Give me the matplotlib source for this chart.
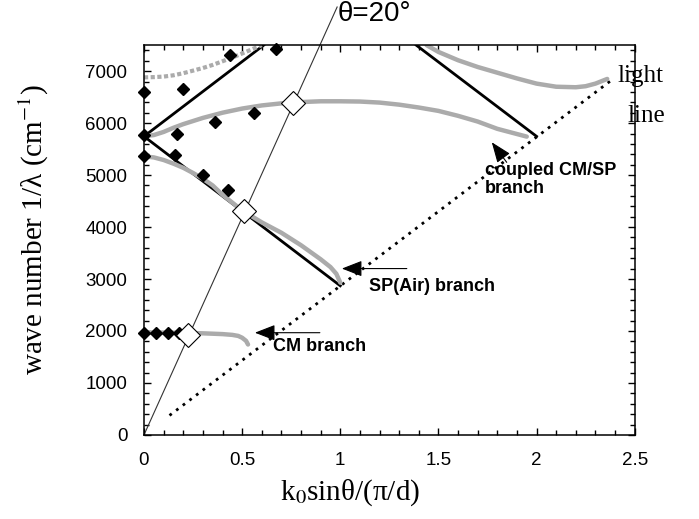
import matplotlib
matplotlib.use("Agg")
import matplotlib.pyplot as plt
from matplotlib.ticker import MultipleLocator

plt.rcParams['mathtext.fontset'] = 'stix'

# light line (dotted) and folded light lines (black solid)
light_x = [0.13, 2.39]
light_y = [375, 6850]
fold_up_x = [0.0, 0.61]
fold_up_y = [5745, 7500]
fold_down_x = [0.0, 1.0]
fold_down_y = [5745, 2870]
fold_right_x = [1.387, 2.0]
fold_right_y = [7500, 5745]

# theta = 20 deg line
theta_x = [0.0, 0.984]
theta_y = [0, 8234]

# calculated branches (gray)
band_a_x = [0, 0.05, 0.1, 0.15, 0.2, 0.25, 0.3, 0.35, 0.4, 0.45, 0.5, 0.55, 0.6]
band_a_y = [6880, 6885, 6895, 6920, 6960, 7010, 7060, 7120, 7190, 7260, 7340, 7420, 7500]

band_b_x = [0, 0.05, 0.1, 0.15, 0.2, 0.3, 0.4, 0.5, 0.6, 0.7, 0.8, 0.9, 1.0, 1.1,
            1.2, 1.3, 1.4, 1.5, 1.6, 1.7, 1.8, 1.9, 1.95]
band_b_y = [5750, 5770, 5830, 5910, 5980, 6100, 6200, 6280, 6340, 6380, 6405, 6420,
            6420, 6415, 6395, 6355, 6300, 6235, 6140, 6030, 5890, 5790, 5740]

band_c_x = [1.44, 1.5, 1.6, 1.7, 1.8, 1.9, 2.0, 2.1, 2.2, 2.25, 2.3, 2.36]
band_c_y = [7500, 7370, 7210, 7080, 6970, 6860, 6760, 6700, 6690, 6710, 6760, 6850]

band_d_x = [0, 0.05, 0.1, 0.15, 0.2, 0.25, 0.3, 0.35, 0.4, 0.5, 0.6, 0.7, 0.8,
            0.9, 0.95, 0.98, 1.0]
band_d_y = [5360, 5340, 5290, 5220, 5140, 5040, 4930, 4800, 4620, 4320, 4090,
            3890, 3650, 3380, 3230, 3100, 2930]

band_e_x = [0, 0.1, 0.2, 0.3, 0.4, 0.45, 0.48, 0.5, 0.52, 0.53]
band_e_y = [1970, 1970, 1965, 1955, 1940, 1925, 1905, 1870, 1810, 1740]

# measured points (filled diamonds)
meas_x = [0, 0.2, 0.44, 0.67, 0, 0.17, 0.36, 0.56, 0, 0.16, 0.3, 0.43,
          0, 0.06, 0.12, 0.18]
meas_y = [6590, 6650, 7310, 7430, 5765, 5790, 6020, 6190, 5360, 5390, 5010, 4720,
          1970, 1970, 1970, 1970]

# crossings with theta = 20 deg (open diamonds)
cross_x = [0.225, 0.51, 0.76]
cross_y = [1930, 4300, 6380]

gray = '#ababab'

fig = plt.figure(figsize=(6.99, 5.19), dpi=100)
ax = fig.add_axes([0.206, 0.162, 0.702, 0.751])

ax.plot(light_x, light_y, color='black', lw=2, linestyle=(0, (1, 2)))
for xs, ys in [(fold_up_x, fold_up_y), (fold_down_x, fold_down_y), (fold_right_x, fold_right_y)]:
    ax.plot(xs, ys, color='black', lw=2)

ax.plot(band_a_x, band_a_y, color=gray, lw=3, linestyle=(0, (1, 0.6)))
for xs, ys in [(band_b_x, band_b_y), (band_c_x, band_c_y), (band_d_x, band_d_y), (band_e_x, band_e_y)]:
    ax.plot(xs, ys, color=gray, lw=3.2, solid_capstyle='round')

ax.plot(theta_x, theta_y, color='#333333', lw=0.8, clip_on=False)

ax.plot(meas_x, meas_y, 'D', color='black', markersize=6, clip_on=False, zorder=5)
ax.plot(cross_x, cross_y, 'D', markerfacecolor='white', markeredgecolor='black',
        markeredgewidth=0.8, markersize=12, zorder=6)

# labels with arrows
arrow = dict(arrowstyle='-|>,head_length=0.9,head_width=0.35', color='black',
             lw=0.8, mutation_scale=14, shrinkA=0, shrinkB=0)
txt = dict(fontsize=13, fontweight='bold', family='Liberation Sans')
ax.annotate('', xy=(1.008, 3201), xytext=(1.339, 3201), arrowprops=arrow)
ax.text(1.146, 2854, 'SP(Air) branch', va='center', ha='left', **txt)
ax.annotate('', xy=(0.565, 1967), xytext=(0.896, 1967), arrowprops=arrow)
ax.text(0.657, 1697, 'CM branch', va='center', ha='left', **txt)
ax.annotate('', xy=(1.772, 5631), xytext=(1.848, 5245), arrowprops=arrow)
ax.text(1.736, 4917, 'coupled CM/SP\nbranch', va='center', ha='left', linespacing=1.1, **txt)

serif = 'Liberation Serif'
ax.text(2.413, 6903, 'light', fontsize=18, family=serif, va='center', ha='left')
ax.text(2.464, 6132, 'line', fontsize=18, family=serif, va='center', ha='left')
ax.text(0.988, 8099, 'θ=20°', fontsize=20, family='Liberation Sans', va='center', ha='left')

ax.set_xlim(0, 2.5)
ax.set_ylim(0, 7500)
ax.xaxis.set_major_locator(MultipleLocator(0.5))
ax.xaxis.set_minor_locator(MultipleLocator(0.1))
ax.yaxis.set_major_locator(MultipleLocator(1000))
ax.yaxis.set_minor_locator(MultipleLocator(200))
ax.set_xticks([0, 0.5, 1, 1.5, 2, 2.5])
ax.set_xticklabels(['0', '0.5', '1', '1.5', '2', '2.5'])
ax.tick_params(which='both', direction='in', top=True, right=True)
ax.tick_params(which='major', length=5, width=1, pad=12)
ax.tick_params(which='minor', length=3.5, width=1)
for lab in ax.get_xticklabels() + ax.get_yticklabels():
    lab.set_family('Liberation Sans')
    lab.set_fontsize(13.5)
for sp in ax.spines.values():
    sp.set_linewidth(1.1)

ax.set_xlabel('k$_{0}$sinθ/(π/d)', fontsize=21, family=serif)
ax.set_ylabel('wave number 1/λ (cm$^{-1}$)', fontsize=21, family=serif)
ax.xaxis.set_label_coords(0.42, -0.11)
ax.yaxis.set_label_coords(-0.19, 0.526)

fig.savefig('out.png', dpi=100)
